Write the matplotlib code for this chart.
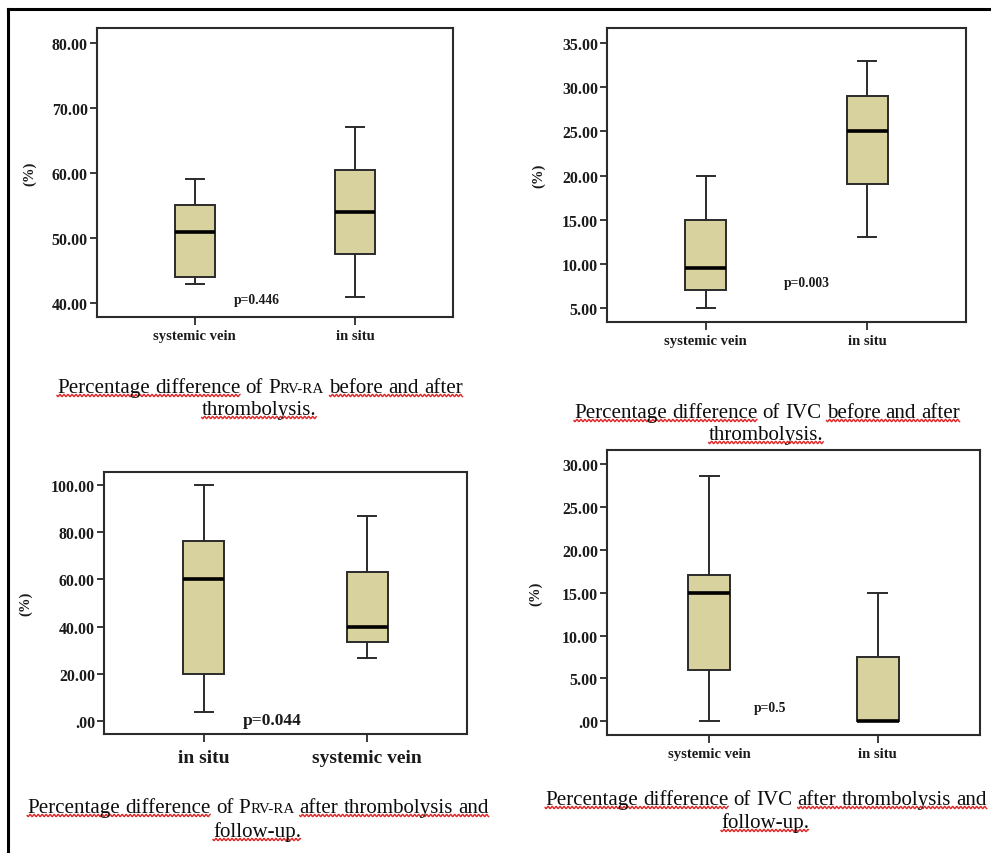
import numpy as np
import matplotlib
matplotlib.use("Agg")
import matplotlib.pyplot as plt
from matplotlib.lines import Line2D
from matplotlib.ticker import FixedLocator, FuncFormatter

W, H = 991, 854
SERIF = "Liberation Serif"
BOX_FILL = "#d8d29e"
EDGE = "#2b2b2b"

# five-number summaries: [whisker low, Q1, median, Q3, whisker high]
prv_before_systemic = [43.0, 44.0, 51.0, 55.0, 59.0]
prv_before_insitu = [41.0, 47.5, 54.0, 60.5, 67.0]
ivc_before_systemic = [5.0, 7.0, 9.5, 15.0, 20.0]
ivc_before_insitu = [13.0, 19.0, 25.0, 29.0, 33.0]
prv_follow_insitu = [3.7, 20.0, 60.0, 76.0, 100.0]
prv_follow_systemic = [26.5, 33.3, 40.0, 63.2, 86.6]
ivc_follow_systemic = [0.0, 6.0, 15.0, 17.0, 28.6]
ivc_follow_insitu = [0.0, 0.0, 0.0, 7.5, 15.0]

labels_sys_first = ["systemic vein", "in situ"]
labels_insitu_first = ["in situ", "systemic vein"]

p_values = ["p=0.446", "p=0.003", "p=0.044", "p=0.5"]

ticks_prv_before = [40, 50, 60, 70, 80]
ticks_ivc_before = [5, 10, 15, 20, 25, 30, 35]
ticks_prv_follow = [0, 20, 40, 60, 80, 100]
ticks_ivc_follow = [0, 5, 10, 15, 20, 25, 30]

captions = [
    ["Percentage difference of P|RV-RA before and after", "thrombolysis."],
    ["Percentage difference of IVC before and after", "thrombolysis."],
    ["Percentage difference of P|RV-RA after thrombolysis and", "follow-up."],
    ["Percentage difference of IVC after thrombolysis and", "follow-up."],
]
plain_words = {"of", "P|RV-RA", "IVC"}


def fmt_tick(v, pos):
    s = f"{v:.2f}"
    return s[1:] if s.startswith("0") else s


def make_axes(fig, box_px):
    x0, y0, x1, y1 = box_px
    return fig.add_axes([x0 / W, 1 - y1 / H, (x1 - x0) / W, (y1 - y0) / H])


def draw_panel(ax, stats, names, ylim, ticks, ptext, ppos, psize, xsize, xpad, ylab_x):
    bx = []
    for s, n in zip(stats, names):
        bx.append(dict(whislo=s[0], q1=s[1], med=s[2], q3=s[3], whishi=s[4],
                       label=n, fliers=[]))
    ax.bxp(bx, positions=[1, 2], widths=0.25, capwidths=0.11, patch_artist=True,
           showfliers=False,
           boxprops=dict(facecolor=BOX_FILL, edgecolor=EDGE, linewidth=1.4),
           whiskerprops=dict(color=EDGE, linewidth=1.4),
           capprops=dict(color=EDGE, linewidth=1.4),
           medianprops=dict(color="black", linewidth=2.6))
    ax.set_xlim(0.39, 2.61)
    ax.set_ylim(*ylim)
    ax.yaxis.set_major_locator(FixedLocator(ticks))
    ax.yaxis.set_major_formatter(FuncFormatter(fmt_tick))
    for sp in ax.spines.values():
        sp.set_color(EDGE)
        sp.set_linewidth(1.5)
    ax.tick_params(axis="y", length=5, width=1.3, color=EDGE, pad=1.5)
    ax.tick_params(axis="x", length=6, width=1.3, color=EDGE, pad=xpad)
    for t in ax.get_yticklabels():
        t.set_fontfamily(SERIF)
        t.set_fontweight("bold")
        t.set_fontsize(11.4)
        t.set_color("#1a1a1a")
    for t in ax.get_xticklabels():
        t.set_fontfamily(SERIF)
        t.set_fontweight("bold")
        t.set_fontsize(xsize)
        t.set_color("#1a1a1a")
    ax.set_ylabel("(%)", family=SERIF, fontweight="bold", fontsize=10.5, color="#1a1a1a")
    ax.yaxis.set_label_coords(ylab_x, 0.5)
    ax.text(ppos[0], ppos[1], ptext, transform=ax.transAxes, ha="center", va="center",
            family=SERIF, fontweight="bold", fontsize=psize, color="#1a1a1a")


def wave(fig, xa, xb, y):
    xs = np.arange(xa, xb, 0.5)
    ys = y + 1.1 * np.sin(2 * np.pi * (xs - xa) / 4.0)
    fig.add_artist(Line2D(xs / W, 1 - ys / H, color="#e02828", linewidth=1.0))


def caption_line(fig, text, cx, base_y, size):
    r = fig.canvas.get_renderer()

    def width(s, fs):
        t = fig.text(0, 0, s, fontsize=fs, family=SERIF)
        w = t.get_window_extent(r).width
        t.remove()
        return w

    space = width("a a", size) - width("aa", size)
    words = text.split(" ")
    pieces = []
    total = 0.0
    for i, wd in enumerate(words):
        if "|" in wd:
            a, b = wd.split("|")
            runs = [(a, size), (b, size * 0.72)]
        else:
            runs = [(wd, size)]
        ws = [width(s, fs) for s, fs in runs]
        pieces.append((wd, runs, ws))
        total += sum(ws)
        if i < len(words) - 1:
            total += space
    x = cx - total / 2
    spans = []
    for i, (wd, runs, ws) in enumerate(pieces):
        start = x
        for (s, fs), w in zip(runs, ws):
            fig.text(x / W, 1 - base_y / H, s, fontsize=fs, family=SERIF,
                     ha="left", va="baseline", color="#0d0d0d")
            x += w
        if wd.strip(".") not in plain_words:
            if spans and spans[-1][2] == i - 1:
                spans[-1] = (spans[-1][0], x, i)
            else:
                spans.append((start, x, i))
        x += space
    for a, b, _ in spans:
        wave(fig, a, b, base_y + 3.5)


fig = plt.figure(figsize=(W / 100, H / 100), dpi=100)
fig.patch.set_facecolor("white")

ax1 = make_axes(fig, (97, 29, 453, 318))
draw_panel(ax1, [prv_before_systemic, prv_before_insitu], labels_sys_first,
           (37.85, 82.3), ticks_prv_before, p_values[0], (0.449, 0.062), 9.8,
           10.5, 3, -0.169)

ax2 = make_axes(fig, (607, 29, 966, 323))
draw_panel(ax2, [ivc_before_systemic, ivc_before_insitu], labels_sys_first,
           (3.42, 36.7), ticks_ivc_before, p_values[1], (0.557, 0.136), 9.8,
           10.5, 3, -0.173)

ax3 = make_axes(fig, (104, 473, 467, 735))
draw_panel(ax3, [prv_follow_insitu, prv_follow_systemic], labels_insitu_first,
           (-5.5, 105.4), ticks_prv_follow, p_values[2], (0.463, 0.053), 12.6,
           14, 4.5, -0.196)

ax4 = make_axes(fig, (607, 451, 980, 736))
draw_panel(ax4, [ivc_follow_systemic, ivc_follow_insitu], labels_sys_first,
           (-1.6, 31.63), ticks_ivc_follow, p_values[3], (0.437, 0.098), 9.8,
           10.5, 3, -0.172)

# captions under each chart
cap_size = 15.1
caption_line(fig, captions[0][0], 260, 393, cap_size)
caption_line(fig, captions[0][1], 259, 415, cap_size)
caption_line(fig, captions[1][0], 767, 418, cap_size)
caption_line(fig, captions[1][1], 766, 440, cap_size)
caption_line(fig, captions[2][0], 258, 813, cap_size)
caption_line(fig, captions[2][1], 257, 837, cap_size)
caption_line(fig, captions[3][0], 766, 805, cap_size)
caption_line(fig, captions[3][1], 765, 828, cap_size)

# outer frame: top and left edges
fig.add_artist(Line2D([8 / W, 990 / W], [1 - 10 / H, 1 - 10 / H], color="black", linewidth=2.2))
fig.add_artist(Line2D([8 / W, 8 / W], [1 - 10 / H, 0], color="black", linewidth=2.2))

fig.savefig("out.png", dpi=100)
